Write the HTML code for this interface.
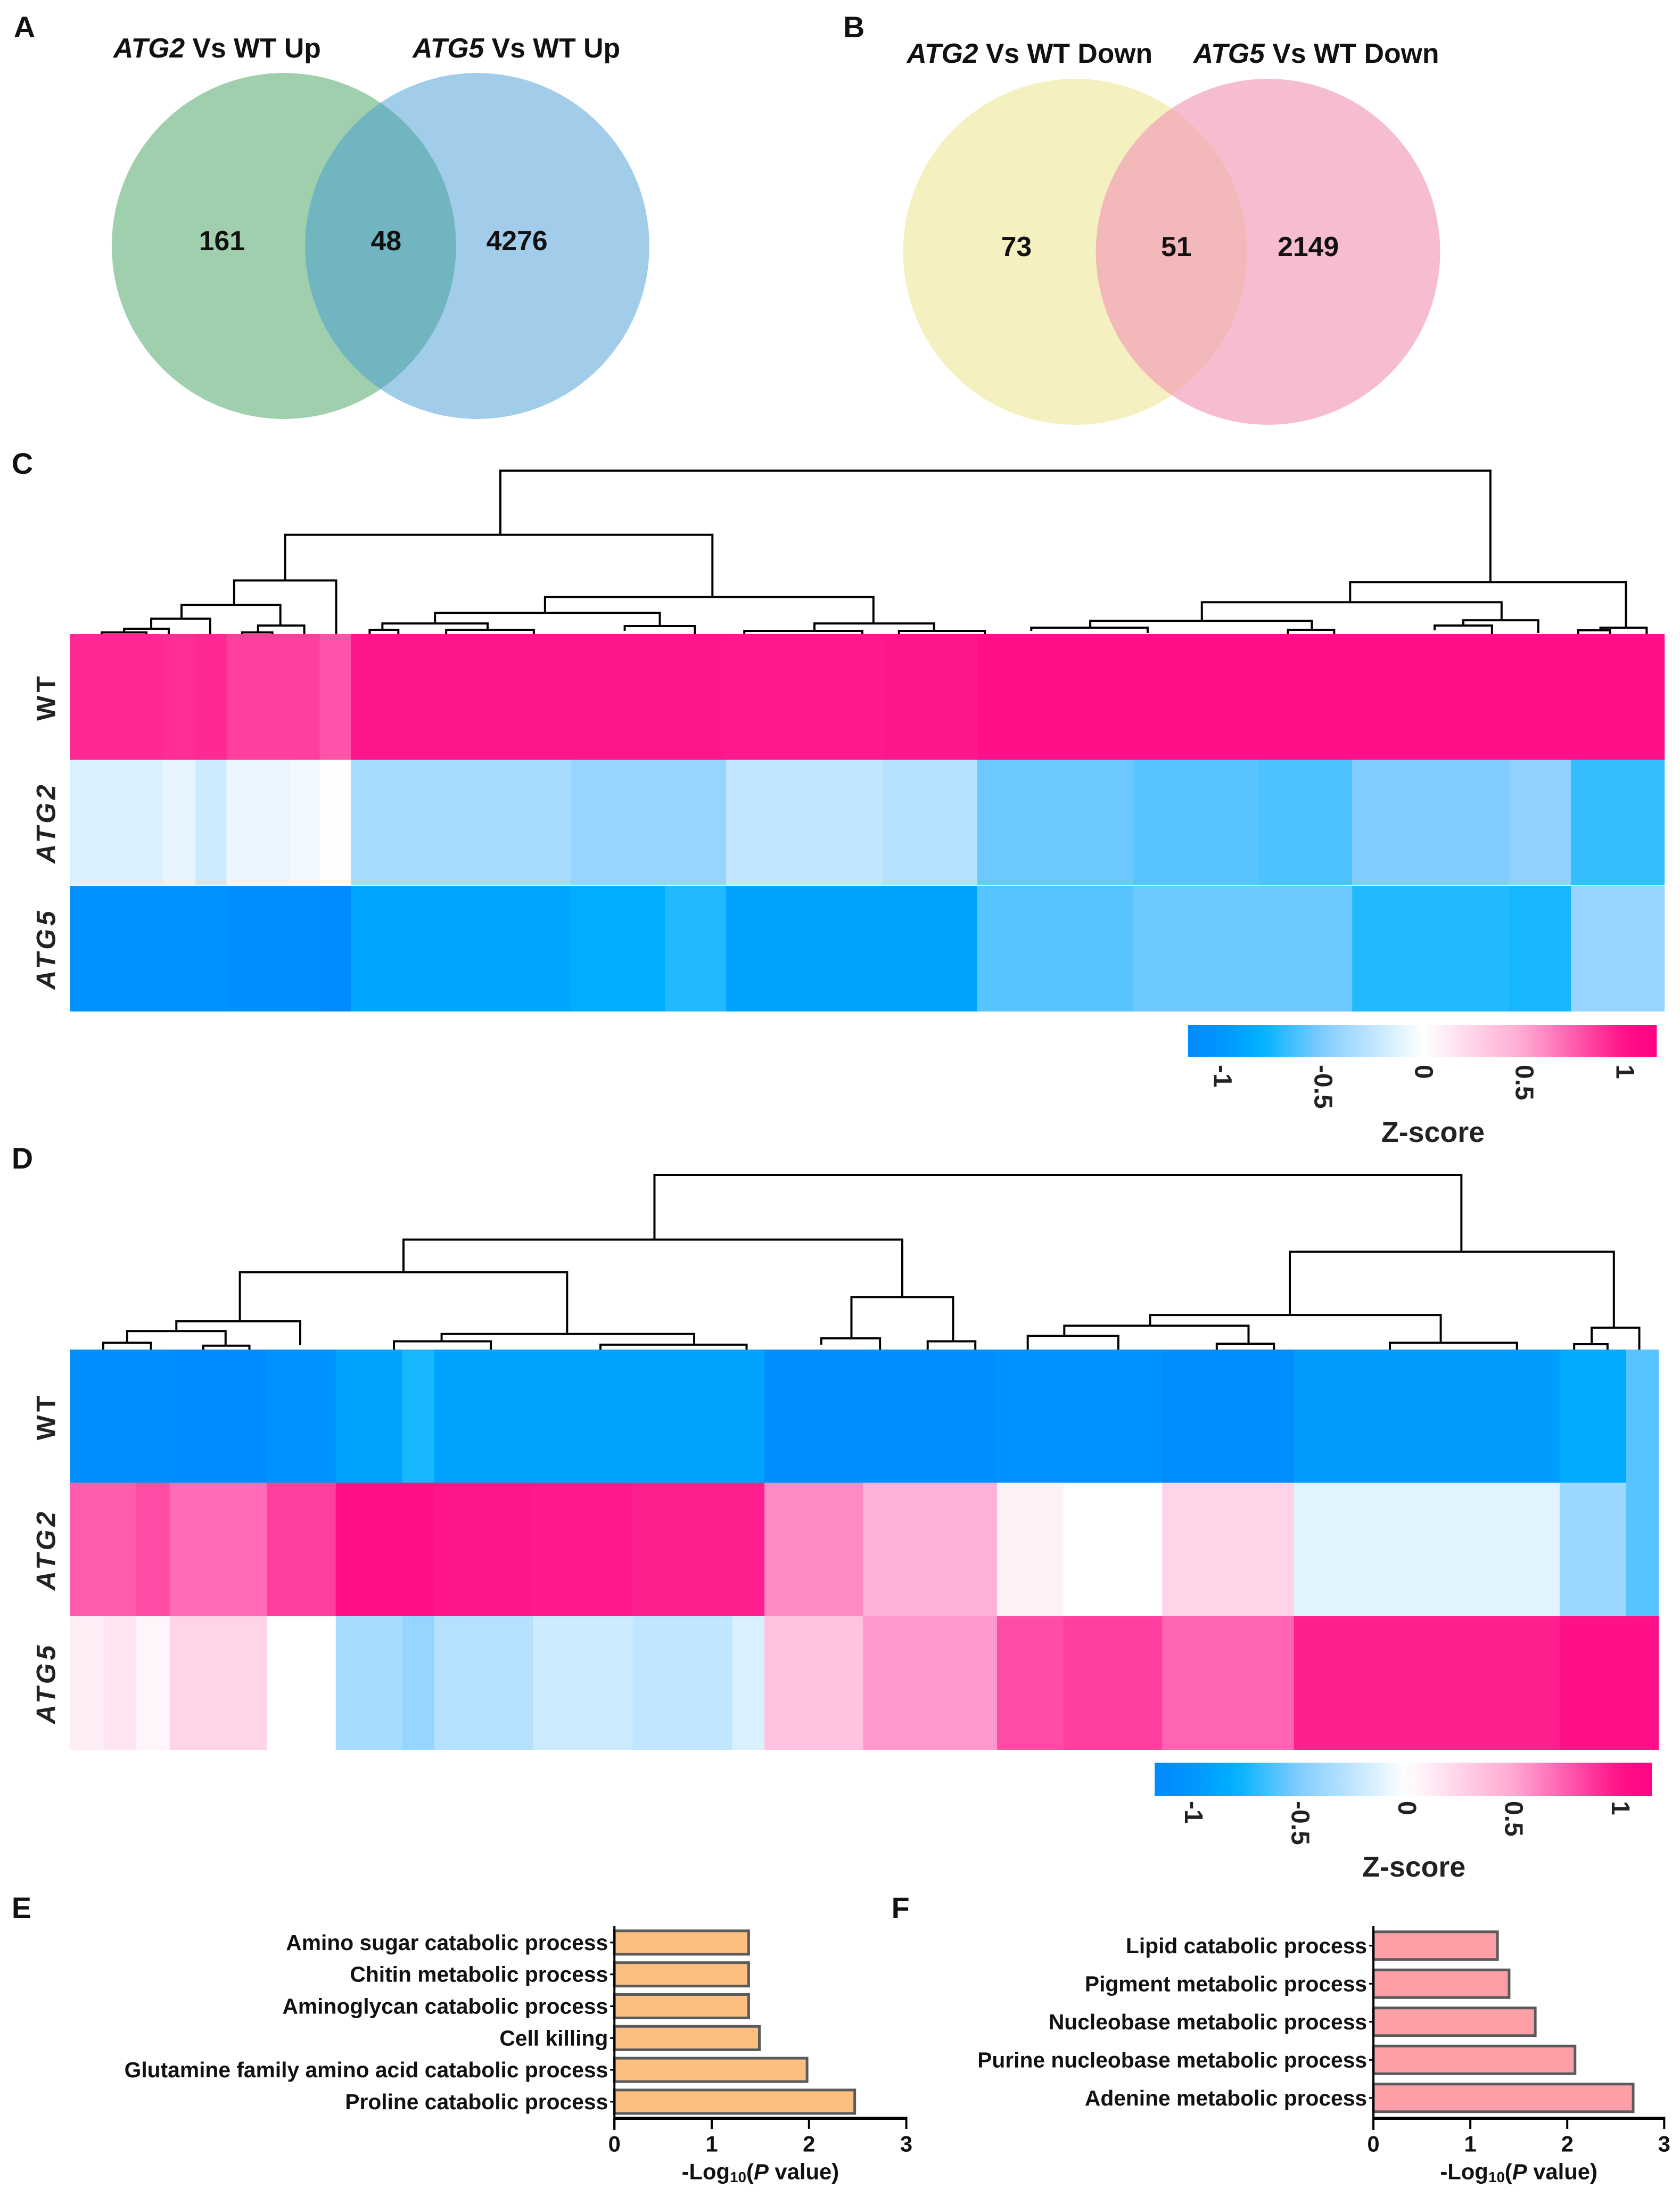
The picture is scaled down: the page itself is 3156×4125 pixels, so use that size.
<!DOCTYPE html>
<html><head><meta charset="utf-8">
<style>
html,body{margin:0;padding:0;background:#fff;}
svg{display:block;font-family:"Liberation Sans",Arial,sans-serif;}
.lbl{font-weight:bold;fill:#111;}
</style></head>
<body>
<svg id="fig" width="3156" height="4125" viewBox="0 0 3156 4125" xmlns="http://www.w3.org/2000/svg">
<defs>
<linearGradient id="gradC" x1="0" x2="1" y1="0" y2="0"></linearGradient>
<linearGradient id="gradD" x1="0" x2="1" y1="0" y2="0"></linearGradient>
</defs>
<g transform="scale(0.995 1)">
<!-- Panel letters -->
<text class="lbl" x="26" y="70" font-size="56">A</text>
<text class="lbl" x="1592" y="70" font-size="56">B</text>
<text class="lbl" x="22" y="890" font-size="56">C</text>
<text class="lbl" x="22" y="2195" font-size="56">D</text>
<text class="lbl" x="22" y="3603" font-size="56">E</text>
<text class="lbl" x="1683" y="3603" font-size="56">F</text>

<!-- Venn A -->
<g>
<circle cx="536" cy="462" r="325" fill="#9fcfad"/>
<circle cx="901" cy="462" r="325" fill="#439bd5" fill-opacity="0.5"/>
<text class="lbl" x="410" y="108" font-size="52" text-anchor="middle"><tspan font-style="italic">ATG2</tspan> Vs WT Up</text>
<text class="lbl" x="975" y="108" font-size="52" text-anchor="middle"><tspan font-style="italic">ATG5</tspan> Vs WT Up</text>
<text class="lbl" x="419" y="470" font-size="52" text-anchor="middle">161</text>
<text class="lbl" x="729" y="470" font-size="52" text-anchor="middle">48</text>
<text class="lbl" x="976" y="470" font-size="52" text-anchor="middle">4276</text>
</g>
<!-- Venn B -->
<g>
<circle cx="2030" cy="473" r="325" fill="#f5f0c0"/>
<circle cx="2394" cy="473" r="325" fill="#f19ab7" fill-opacity="0.65"/>
<text class="lbl" x="1944" y="118" font-size="52" text-anchor="middle"><tspan font-style="italic">ATG2</tspan> Vs WT Down</text>
<text class="lbl" x="2485" y="118" font-size="52" text-anchor="middle"><tspan font-style="italic">ATG5</tspan> Vs WT Down</text>
<text class="lbl" x="1919" y="481" font-size="52" text-anchor="middle">73</text>
<text class="lbl" x="2221" y="481" font-size="52" text-anchor="middle">51</text>
<text class="lbl" x="2470" y="481" font-size="52" text-anchor="middle">2149</text>
</g>

<g id="heatC"></g>
<g id="treeC"></g>
<g id="cbarC"></g>
<g id="heatD"></g>
<g id="treeD"></g>
<g id="cbarD"></g>
<g id="barE"></g>
<g id="barF"></g>
</g>
</svg>
<script>
// ---------- data ----------
const rowNames = ["WT", "ATG2", "ATG5"];
// Panel C: cluster sizes (relative widths) and z-scores per row
const cClusterSizes = [87,30,29,59,28,29,205,88,57,146,88,146,117,87,146,58,87];
const cWT   = [0.92,0.9,0.92,0.85,0.85,0.78,0.98,0.98,0.98,0.97,0.98,1,1,1,1,1,1];
const cATG2 = [-0.15,-0.1,-0.2,-0.08,-0.06,0.02,-0.35,-0.42,-0.42,-0.25,-0.3,-0.55,-0.6,-0.62,-0.5,-0.45,-0.68];
const cATG5 = [-1.05,-1.05,-1.05,-1.1,-1.1,-1.15,-0.88,-0.82,-0.72,-0.9,-0.9,-0.6,-0.55,-0.55,-0.72,-0.75,-0.42];
// Panel D
const dClusterSizes = [32,30,31,91,64,62,30,92,93,93,30,92,125,62,92,123,248,62,30];
const dWT   = [-1.1,-1.1,-1.1,-1.15,-1.05,-0.9,-0.75,-0.9,-0.9,-0.9,-0.9,-1.12,-1.1,-1.05,-1.05,-1.12,-0.95,-0.85,-0.6];
const dATG2 = [0.75,0.75,0.8,0.7,0.85,1.0,1.0,0.98,0.97,0.95,0.95,0.6,0.45,0.08,0.0,0.25,-0.12,-0.4,-0.6];
const dATG5 = [0.1,0.15,0.05,0.25,0.0,-0.35,-0.42,-0.3,-0.2,-0.25,-0.15,0.35,0.55,0.8,0.85,0.72,0.95,1.0,1.0];
// Dendrogram merges: [leftPos, rightPos, mergeLevel, leftChildLevel, rightChildLevel]
const cMerges = [
 [270,891,308,187,98],[135,403,187,101,70],[103,167,101,55,0],[70,132,55,29,16],
 [51,88,29,10,0],[34,62,10,3,0],[20,48,3,0,0],[118,147,16,3,0],[108,127,3,0,0],
 [298,504,70,40,20],[229,370,40,20,15],[196,262,20,8,8],[188,206,8,0,0],[236,291,8,0,0],
 [348,392,15,6,0],[467,542,20,6,6],[423,497,6,0,0],[520,574,6,0,0],
 [803,976,98,60,12],[710,898,60,25,26],[640,779,25,12,8],[603,676,12,6,2],[764,793,8,0,0],
 [874,921,26,16,2],[856,892,16,7,0],[960,989,12,7,0],[946,966,7,0,0]
];
const dMerges = [
 [368,876,359,226,201],[210,524,226,159,108],[107,313,159,58,32],[67,145,58,38,9],
 [36,98,38,14,8],[21,51,14,0,0],[84,113,8,0,0],[234,393,32,17,10],[204,265,17,0,0],
 [334,426,10,0,0],[492,556,108,23,17],[473,510,23,10,0],[540,570,17,0,0],
 [768,972,201,71,45],[680,863,71,49,14],[626,742,49,28,12],[603,660,28,0,0],[722,758,12,0,0],
 [831,911,14,0,0],[958,988,45,11,0],[947,968,11,0,0]
];
const zTicks = [-1,-0.5,0,0.5,1];
const zTickLabels = ["-1","-0.5","0","0.5","1"];
// Panel E
const eTerms = ["Amino sugar catabolic process","Chitin metabolic process","Aminoglycan catabolic process","Cell killing","Glutamine family amino acid catabolic process","Proline catabolic process"];
const eValues = [1.38,1.38,1.38,1.49,1.98,2.47];
// Panel F
const fTerms = ["Lipid catabolic process","Pigment metabolic process","Nucleobase metabolic process","Purine nucleobase metabolic process","Adenine metabolic process"];
const fValues = [1.28,1.40,1.67,2.08,2.68];
const xTicks = [0,1,2,3];

// ---------- helpers ----------
const NS = "http://www.w3.org/2000/svg";
function mk(tag, attrs, parent){const e=document.createElementNS(NS,tag);for(const k in attrs)e.setAttribute(k,attrs[k]);parent.appendChild(e);return e;}
const cmapStops=[[-1.2,[0,136,255]],[-1,[0,150,255]],[-0.8,[0,178,255]],[-0.5,[130,205,255]],[0,[255,255,255]],[0.5,[255,168,210]],[1,[255,16,136]],[1.2,[255,0,130]]];
function cmap(z){
  if(z<=cmapStops[0][0])return rgb(cmapStops[0][1]);
  for(let i=1;i<cmapStops.length;i++){const a=cmapStops[i-1],b=cmapStops[i];
    if(z<=b[0]){const t=(z-a[0])/(b[0]-a[0]);return rgb(a[1].map((v,j)=>v+(b[1][j]-v)*t));}}
  return rgb(cmapStops[cmapStops.length-1][1]);
}
function rgb(c){return "rgb("+c.map(v=>Math.round(v)).join(",")+")";}

function heatmap(gId, sizes, rows, x0, x1, yTops, rowH, prefix){
  const g=document.getElementById(gId);
  const total=sizes.reduce((a,b)=>a+b,0);
  const sx=v=>x0+(x1-x0)*v/total;
  rows.forEach((vals,r)=>{
    let acc=0;
    sizes.forEach((s,i)=>{
      const el=mk("rect",{x:sx(acc),y:yTops[r],width:sx(acc+s)-sx(acc)+0.8,height:rowH,fill:cmap(vals[i])},g);
      
      
      acc+=s;
    });
    const cy=yTops[r]+rowH/2;
    const t=mk("text",{x:87,y:cy,"font-size":50,"font-weight":"bold","text-anchor":"middle","dominant-baseline":"central",fill:"#222",transform:"rotate(-90 87 "+cy+")","letter-spacing":"6"},g);
    if(r>0)t.setAttribute("font-style","italic");
    t.textContent=rowNames[r];
    
    
  });
}
function dendro(gId, merges, x0, x1, base, maxLevel, topY, prefix){
  const g=document.getElementById(gId);
  const sx=v=>x0+(x1-x0)*v/1000;
  const sy=h=>base-(base-topY)*h/maxLevel;
  merges.forEach((m,i)=>{
    const d="M"+sx(m[0])+","+sy(m[3])+"V"+sy(m[2])+"H"+sx(m[1])+"V"+sy(m[4]);
    const p=mk("path",{d:d,fill:"none",stroke:"#000","stroke-width":4},g);
    
    
  });
}
function colorbar(gId, gradId, x0, x1, y0, y1, vmin, vmax, tickTop, zY, prefix){
  const grad=document.getElementById(gradId);
  for(let i=0;i<=40;i++){const z=vmin+(vmax-vmin)*i/40;mk("stop",{offset:(i/40),"stop-color":cmap(z)},grad);}
  const g=document.getElementById(gId);
  const r=mk("rect",{x:x0,y:y0,width:x1-x0,height:y1-y0,fill:"url(#"+gradId+")"},g);
  
  
  const sx=z=>x0+(x1-x0)*(z-vmin)/(vmax-vmin);
  zTicks.forEach((z,i)=>{
    const x=sx(z);
    const t=mk("text",{x:x,y:tickTop,"font-size":48,"font-weight":"bold","dominant-baseline":"central",fill:"#222",transform:"rotate(90 "+x+" "+tickTop+")"},g);
    t.textContent=zTickLabels[i];
    
    
  });
  const zt=mk("text",{x:(x0+x1)/2+20,y:zY,"font-size":54,"font-weight":"bold","text-anchor":"middle","dominant-baseline":"central",fill:"#222"},g);
  zt.textContent="Z-score";
  
  
}
function barChart(gId, terms, values, axisX, unit, yTop, yBottom, bandTop, band, barH, fill, prefix){
  const g=document.getElementById(gId);
  const sx=v=>axisX+unit*v;
  terms.forEach((term,i)=>{
    const cy=bandTop+band*(i+0.5);
    const b=mk("rect",{x:sx(0),y:cy-barH/2,width:sx(values[i])-sx(0),height:barH,fill:fill,stroke:"#5a5a5a","stroke-width":5},g);
    
    
    mk("line",{x1:sx(0)-8,x2:sx(0),y1:cy,y2:cy,stroke:"#000","stroke-width":3},g);
    const t=mk("text",{x:sx(0)-12,y:cy,"font-size":41,"font-weight":"bold","text-anchor":"end","dominant-baseline":"central",fill:"#111"},g);
    t.textContent=term;
    
    
  });
  const ya=mk("line",{x1:sx(0),x2:sx(0),y1:yTop,y2:yBottom+22,stroke:"#000","stroke-width":4},g);
  
  
  const xa=mk("line",{x1:sx(0),x2:sx(xTicks[xTicks.length-1])+2,y1:yBottom,y2:yBottom,stroke:"#000","stroke-width":6},g);
  
  
  xTicks.forEach(v=>{
    mk("line",{x1:sx(v),x2:sx(v),y1:yBottom,y2:yBottom+20,stroke:"#000","stroke-width":4},g);
    const t=mk("text",{x:sx(v),y:yBottom+48,"font-size":42,"font-weight":"bold","text-anchor":"middle","dominant-baseline":"central",fill:"#111"},g);
    t.textContent=String(v);
    
    
  });
  const tt=mk("text",{x:(sx(0)+sx(3))/2,y:yBottom+100,"font-size":42,"font-weight":"bold","text-anchor":"middle","dominant-baseline":"central",fill:"#111"},g);
  tt.innerHTML='-Log<tspan font-size="28" dy="10">10</tspan><tspan dy="-10">(</tspan><tspan font-style="italic">P</tspan> value)';
  
  
}

// ---------- render ----------
heatmap("heatC", cClusterSizes, [cWT,cATG2,cATG5], 132, 3142, [1191,1427,1664], 236, "heatmap-c");
dendro("treeC", cMerges, 132, 3142, 1191, 308, 884, "dendrogram-c");
colorbar("cbarC","gradC", 2243, 3128, 1925, 1985, -1.17, 1.16, 2000, 2127, "colorbar-c");
heatmap("heatD", dClusterSizes, [dWT,dATG2,dATG5], 132, 3131, [2535,2785,3036], 251, "heatmap-d");
dendro("treeD", dMerges, 132, 3131, 2535, 359, 2207, "dendrogram-d");
colorbar("cbarD","gradD", 2180, 3119, 3311, 3374, -1.18, 1.15, 3383, 3507, "colorbar-d");
barChart("barE", eTerms, eValues, 1160, 183.7, 3618, 3979, 3619, 59.8, 44, "#fdbf7f", "bar-e");
barChart("barF", fTerms, fValues, 2593, 183, 3618, 3979, 3619, 71.5, 52, "#fc9fa6", "bar-f");
</script>
</body></html>
